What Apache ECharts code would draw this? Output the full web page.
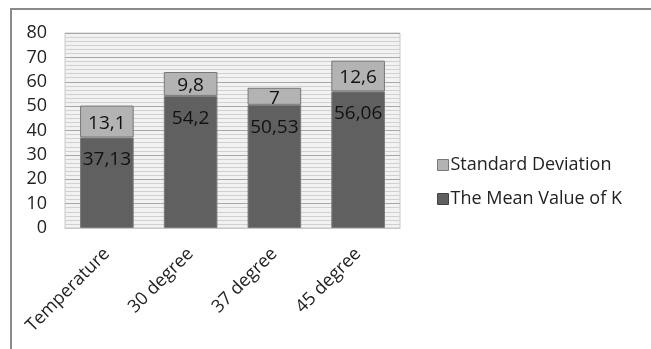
<!DOCTYPE html>
<html>
<head>
<meta charset="utf-8">
<script src="https://cdn.jsdelivr.net/npm/echarts@6/dist/echarts.min.js"></script>
<style>
  html, body { margin: 0; padding: 0; background: #fff; }
  #frame { position: absolute; left: 10px; top: 8px; width: 660px; height: 360px;
           border-left: 2px solid #8a8a8a; border-top: 2px solid #8a8a8a; }
  #chart { position: absolute; left: 0; top: 0; width: 651px; height: 349px; }
</style>
</head>
<body>
<div id="frame"></div>
<div id="chart"></div>
<script>
// categories and series
var categories = ['Temperature', '30 degree', '37 degree', '45 degree']
var meanValues = [37.13, 54.2, 50.53, 56.06]
var stdValues = [13.1, 9.8, 7, 12.6]
var yTicks = [0, 10, 20, 30, 40, 50, 60, 70, 80]

var font = '"Open Sans", Lato, sans-serif'
// decimal comma like the original
function fmt (p) { return String(p.value).replace('.', ',') }

var chart = echarts.init(document.getElementById('chart'))
chart.setOption({
  animation: false,
  textStyle: { fontFamily: font },
  grid: {
    left: 65, right: 251, top: 33, bottom: 121,
    show: true,
    backgroundColor: '#f2f2f2',
    borderColor: '#c8c8c8',
    borderWidth: 1
  },
  legend: {
    orient: 'vertical',
    left: 432,
    top: 151,
    itemGap: 16,
    itemWidth: 11,
    itemHeight: 11,
    icon: 'rect',
    textStyle: { fontSize: 18, color: '#222', fontFamily: font, padding: [0, 0, 0, -3] },
    data: [
      { name: 'Standard Deviation', itemStyle: { borderColor: '#777', borderWidth: 1 } },
      { name: 'The Mean Value of K', itemStyle: { borderColor: '#444', borderWidth: 1 } }
    ]
  },
  xAxis: {
    type: 'category',
    data: categories,
    axisLine: { show: true, lineStyle: { color: '#c8c8c8' } },
    axisTick: { show: false },
    axisLabel: { rotate: 45, fontSize: 18, color: '#222', margin: 23, fontFamily: font }
  },
  yAxis: {
    type: 'value',
    min: yTicks[0],
    max: yTicks[yTicks.length - 1],
    interval: 10,
    axisLine: { show: false },
    axisTick: { show: false },
    axisLabel: { fontSize: 18, color: '#222', margin: 18, fontFamily: font },
    splitLine: { show: true, lineStyle: { color: '#a8a8a8', width: 1 } },
    minorTick: { show: false, splitNumber: 6 },
    minorSplitLine: { show: true, lineStyle: { color: '#d0d0d0', width: 1 } }
  },
  series: [
    {
      name: 'The Mean Value of K',
      type: 'bar',
      stack: 'k',
      barWidth: '64%',
      itemStyle: { color: '#606060', borderColor: '#7a7a7a', borderWidth: 1 },
      label: { show: true, position: 'insideTop', distance: 13, fontSize: 19, color: '#111', formatter: fmt, fontFamily: font },
      data: meanValues
    },
    {
      name: 'Standard Deviation',
      type: 'bar',
      stack: 'k',
      itemStyle: { color: '#b3b3b3', borderColor: '#777', borderWidth: 1 },
      label: { show: true, position: 'inside', offset: [0, 2], fontSize: 19, color: '#111', formatter: fmt, fontFamily: font },
      data: stdValues
    }
  ]
})
</script>
</body>
</html>
